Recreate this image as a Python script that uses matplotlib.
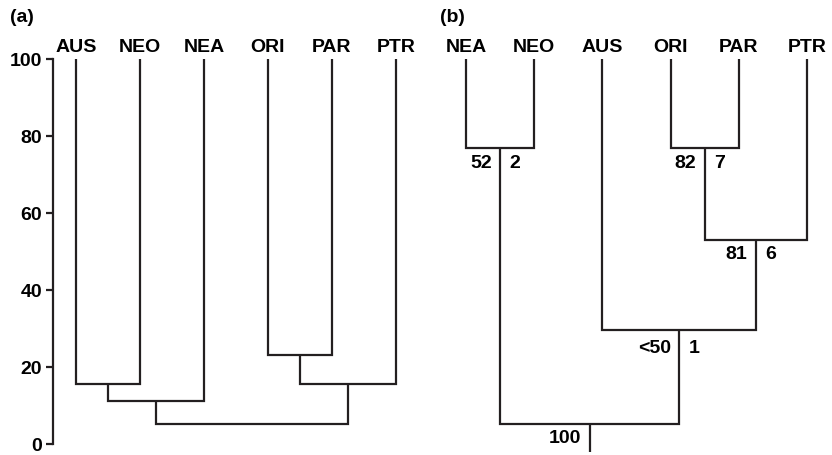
import matplotlib
matplotlib.use("Agg")
import matplotlib.pyplot as plt

plt.rcParams['font.family'] = ['Liberation Sans', 'DejaVu Sans']
plt.rcParams['font.weight'] = 'bold'

# ---- data ----
leaves_a = ["AUS", "NEO", "NEA", "ORI", "PAR", "PTR"]
# merges: (left child, right child, height); children index leaves (0-5) then new nodes (6..)
merges_a_left = [0, 6, 3, 8, 7]
merges_a_right = [1, 2, 4, 5, 9]
merges_a_height = [15.5, 11.2, 23.0, 15.5, 5.2]

leaves_b = ["NEA", "NEO", "AUS", "ORI", "PAR", "PTR"]
merges_b_left = [0, 3, 7, 2, 6]
merges_b_right = [1, 4, 5, 8, 9]
merges_b_height = [77.0, 77.0, 53.0, 29.5, 5.2]
support_b_left = ["52", "82", "81", "<50", "100"]
support_b_right = ["2", "7", "6", "1", ""]
root_stem_b = -2.0

yticks = [0, 20, 40, 60, 80, 100]
leaf_height = 100

LC = "#231f20"
LW = 1.6
FS = 14
label_dy = [-11, -11, -9.5, -12.5, -10]

W, H = 832, 456
fig = plt.figure(figsize=(W / 100, H / 100), dpi=100)

y0_px, y100_px = 445, 60
bottom = (H - y0_px) / H
height = (y0_px - y100_px) / H


def draw_tree(ax, leaves, lefts, rights, heights):
    xs = {i: float(i) for i in range(len(leaves))}
    hs = {i: leaf_height for i in range(len(leaves))}
    n = len(leaves)
    for k, (l, r, h) in enumerate(zip(lefts, rights, heights)):
        xl, xr = xs[l], xs[r]
        ax.plot([xl, xl, xr, xr], [hs[l], h, h, hs[r]], color=LC, lw=LW,
                solid_joinstyle='miter', solid_capstyle='butt', clip_on=False)
        xs[n + k] = (xl + xr) / 2
        hs[n + k] = h
    for i, name in enumerate(leaves):
        ax.annotate(name, xy=(i, leaf_height), xytext=(0, 6), textcoords='offset points',
                    ha='center', va='baseline', fontsize=FS, fontweight='bold', color='black')
    return xs, hs


# ---- panel (a) ----
ax1 = fig.add_axes([53 / W, bottom, (419 - 53) / W, height])
draw_tree(ax1, leaves_a, merges_a_left, merges_a_right, merges_a_height)
ax1.set_ylim(0, 100)
ax1.set_xlim(-0.36, 5.36)
ax1.set_yticks(yticks)
ax1.set_yticklabels([str(t) for t in yticks], fontsize=FS, fontweight='bold')
ax1.set_xticks([])
for s in ['top', 'right', 'bottom']:
    ax1.spines[s].set_visible(False)
ax1.spines['left'].set_linewidth(LW)
ax1.spines['left'].set_color(LC)
ax1.tick_params(axis='y', length=5, width=LW, color=LC, pad=3)
ax1.patch.set_alpha(0)

# ---- panel (b) ----
ax2 = fig.add_axes([442 / W, bottom, (831 - 442) / W, height])
xs, hs = draw_tree(ax2, leaves_b, merges_b_left, merges_b_right, merges_b_height)
ax2.set_ylim(0, 100)
ax2.set_xlim(-0.35, 5.35)
ax2.axis('off')
n = len(leaves_b)
root = n + len(merges_b_height) - 1
ax2.plot([xs[root], xs[root]], [hs[root], root_stem_b], color=LC, lw=LW, clip_on=False,
         solid_capstyle='butt')
for k, (sl, sr) in enumerate(zip(support_b_left, support_b_right)):
    node = n + k
    ax2.annotate(sl, xy=(xs[node], hs[node]), xytext=(-6, label_dy[k]), textcoords='offset points',
                 ha='right', va='center', fontsize=FS, fontweight='bold', annotation_clip=False)
    if sr:
        ax2.annotate(sr, xy=(xs[node], hs[node]), xytext=(7, label_dy[k]), textcoords='offset points',
                     ha='left', va='center', fontsize=FS, fontweight='bold', annotation_clip=False)

fig.text(10 / W, 1 - 18 / H, "(a)", fontsize=FS, fontweight='bold', va='center', ha='left')
fig.text(440 / W, 1 - 18 / H, "(b)", fontsize=FS, fontweight='bold', va='center', ha='left')

fig.savefig("out.png", dpi=100)
